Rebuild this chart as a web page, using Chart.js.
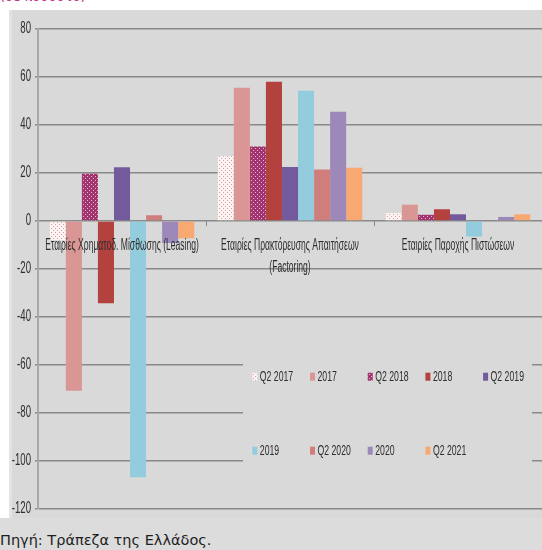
<!DOCTYPE html>
<html>
<head>
<meta charset="utf-8">
<script src="https://cdn.jsdelivr.net/npm/chart.js@4/dist/chart.umd.min.js"></script>
<style>
  html, body { margin: 0; padding: 0; background: #ffffff; }
  body { width: 542px; height: 550px; position: relative; overflow: hidden; }
  #unit { position: absolute; left: 0; top: -11px; font: 13px "DejaVu Sans", sans-serif; line-height: 15px; color: #c0397f; white-space: nowrap; }
  #panel { position: absolute; left: 9px; top: 10px; width: 533px; height: 508px; background: #d9d9d9; }
  #edge { position: absolute; left: 0; top: 0; width: 3px; height: 508px; background: #e3e3e3; }
  #panel canvas { position: absolute; left: 0; top: 0; }
  #foot { position: absolute; left: 0; top: 518px; width: 542px; height: 32px; background: #dcdcdc; }
  #foot span { position: absolute; left: 0; top: 14px; font: 14.5px "DejaVu Sans", sans-serif; line-height: 16px; color: #1e1e1e; white-space: nowrap; }
</style>
</head>
<body>
<div id="unit">(σε ποσοστό)</div>
<div id="panel"><canvas id="chart" width="533" height="508"></canvas><div id="edge"></div></div>
<div id="foot"><span>Πηγή: Τράπεζα της Ελλάδος.</span></div>
<script>
// Company categories (multi-line labels as arrays)
const categories = [
  ["Εταιρίες Χρηματοδ. Μίσθωσης (Leasing)"],
  ["Εταιρίες Πρακτόρευσης Απαιτήσεων", "(Factoring)"],
  ["Εταιρίες Παροχής Πιστώσεων"]
];

// Period names, in legend order
const periods = ["Q2 2017", "2017", "Q2 2018", "2018", "Q2 2019", "2019", "Q2 2020", "2020", "Q2 2021"];

// Percentage values per period, one per category
const valsQ2_2017 = [-8, 27, 3.3];
const vals2017    = [-70.7, 55.5, 6.8];
const valsQ2_2018 = [19.7, 31, 2.6];
const vals2018    = [-34.3, 58, 4.9];
const valsQ2_2019 = [22.4, 22.5, 2.8];
const vals2019    = [-106.8, 54.3, -6.5];
const valsQ2_2020 = [2.4, 21.5, 0];
const vals2020    = [-9.2, 45.5, 1.7];
const valsQ2_2021 = [-7.2, 22.2, 2.8];

// Value axis range and tick step
const yMin = -120;
const yMax = 80;
const yStep = 20;

const seriesValues = [valsQ2_2017, vals2017, valsQ2_2018, vals2018, valsQ2_2019, vals2019, valsQ2_2020, vals2020, valsQ2_2021];

// Dotted fill patterns
function dotPattern(bg, dot) {
  const c = document.createElement('canvas');
  c.width = 4; c.height = 4;
  const g = c.getContext('2d');
  g.fillStyle = bg; g.fillRect(0, 0, 4, 4);
  g.fillStyle = dot;
  g.fillRect(0, 0, 1, 1);
  g.fillRect(2, 2, 1, 1);
  return g.createPattern(c, 'repeat');
}

const ctx = document.getElementById('chart').getContext('2d');

const fills = [
  dotPattern('#fcf3f3', '#dc9c9e'),
  '#d99694',
  dotPattern('#a2346f', '#e6b5cf'),
  '#b3423f',
  '#735a9d',
  '#93cddd',
  '#d07e7c',
  '#9c88b9',
  '#f8a972'
];

const datasets = periods.map((name, i) => ({
  label: name,
  data: seriesValues[i],
  backgroundColor: fills[i],
  borderWidth: 0
}));

const NARROW = '"Liberation Sans Narrow", "Liberation Sans", sans-serif';

// Draws text compressed horizontally (tall, condensed lettering)
function squeezedText(g, text, x, y, align, size, color, sx) {
  g.save();
  g.font = size + 'px ' + NARROW;
  g.fillStyle = color;
  g.textBaseline = 'middle';
  g.textAlign = align;
  g.translate(x, y);
  g.scale(sx, 1);
  g.fillText(text, 0, 0);
  g.restore();
}

// Tick labels for both axes, drawn from the scales' own positions
const axisText = {
  id: 'axisText',
  afterDatasetsDraw(chart) {
    const g = chart.ctx;
    const xs = chart.scales.x, ys = chart.scales.y;
    ys.ticks.forEach(t => {
      squeezedText(g, String(t.value), ys.right - 7, ys.getPixelForValue(t.value), 'right', 16, '#2e2e2e', 0.6);
    });
    const zero = ys.getPixelForValue(0);
    chart.data.labels.forEach((lines, i) => {
      const x = xs.getPixelForValue(i);
      lines.forEach((line, k) => {
        squeezedText(g, line, x, zero + 25 + k * 22, 'center', 16, '#2e2e2e', 0.535);
      });
    });
  }
};

// Legend laid out as a grid inside the plot
const gridLegend = {
  id: 'gridLegend',
  afterDraw(chart, args, opts) {
    const g = chart.ctx;
    g.save();
    g.fillStyle = '#d9d9d9';
    g.fillRect(opts.box[0], opts.box[1], opts.box[2], opts.box[3]);
    chart.data.datasets.forEach((ds, i) => {
      const row = Math.floor(i / opts.cols);
      const col = i % opts.cols;
      const x = opts.x0 + col * opts.colW;
      const y = opts.rows[row];
      g.fillStyle = ds.backgroundColor;
      g.fillRect(x, y - 4, 5, 8);
      squeezedText(g, ds.label, x + 7.5, y, 'left', 15, '#2e2e2e', 0.58);
    });
    g.restore();
  }
};

new Chart(ctx, {
  type: 'bar',
  data: { labels: categories, datasets },
  options: {
    responsive: false,
    animation: false,
    layout: { padding: { left: 0, right: 0, top: 19, bottom: 9 } },
    datasets: { bar: { categoryPercentage: 0.86, barPercentage: 1.0 } },
    plugins: {
      legend: { display: false },
      tooltip: { enabled: false },
      gridLegend: { box: [234, 337, 289, 130], x0: 243.3, colW: 57.7, cols: 5, rows: [366.7, 440.7] }
    },
    scales: {
      x: {
        type: 'category',
        position: { y: 0 },
        offset: true,
        grid: { offset: true, drawOnChartArea: false, drawTicks: true, tickLength: 5, color: '#8c8c8c', lineWidth: 1 },
        border: { display: false },
        ticks: { display: false, autoSkip: false, maxRotation: 0 }
      },
      y: {
        min: yMin,
        max: yMax,
        ticks: { stepSize: yStep, display: false },
        grid: { color: '#8a8a8a', lineWidth: 1.5, drawTicks: true, tickLength: 3 },
        border: { color: '#a8a8a8', width: 2 },
        afterFit(s) { s.width = 29; }
      }
    }
  },
  plugins: [axisText, gridLegend]
});
</script>
</body>
</html>
